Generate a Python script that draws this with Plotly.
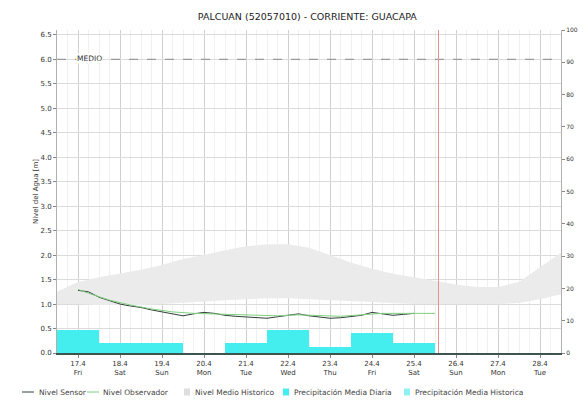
import plotly.graph_objects as go

# ---------------- data ----------------
title_text = "PALCUAN (52057010) - CORRIENTE: GUACAPA"

day_labels = ["17.4<br>Fri", "18.4<br>Sat", "19.4<br>Sun", "20.4<br>Mon", "21.4<br>Tue", "22.4<br>Wed",
              "23.4<br>Thu", "24.4<br>Fri", "25.4<br>Sat", "26.4<br>Sun", "27.4<br>Mon", "28.4<br>Tue"]
day_noons = ["2020-04-17 12:00", "2020-04-18 12:00", "2020-04-19 12:00", "2020-04-20 12:00",
             "2020-04-21 12:00", "2020-04-22 12:00", "2020-04-23 12:00", "2020-04-24 12:00",
             "2020-04-25 12:00", "2020-04-26 12:00", "2020-04-27 12:00", "2020-04-28 12:00"]

sensor_times = ["2020-04-17 12:00", "2020-04-17 18:00", "2020-04-18 00:00", "2020-04-18 06:00",
                "2020-04-18 12:00", "2020-04-18 18:00", "2020-04-19 00:00", "2020-04-19 06:00",
                "2020-04-19 12:00", "2020-04-19 18:00", "2020-04-20 00:00", "2020-04-20 06:00",
                "2020-04-20 12:00", "2020-04-20 18:00", "2020-04-21 00:00", "2020-04-21 06:00",
                "2020-04-21 12:00", "2020-04-21 18:00", "2020-04-22 00:00", "2020-04-22 06:00",
                "2020-04-22 12:00", "2020-04-22 18:00", "2020-04-23 00:00", "2020-04-23 06:00",
                "2020-04-23 12:00", "2020-04-23 18:00", "2020-04-24 00:00", "2020-04-24 06:00",
                "2020-04-24 12:00", "2020-04-24 18:00", "2020-04-25 00:00", "2020-04-25 06:00",
                "2020-04-25 12:00"]
sensor_level = [1.28, 1.25, 1.14, 1.07, 1.00, 0.96, 0.93, 0.88, 0.84, 0.80, 0.76, 0.80,
                0.83, 0.81, 0.77, 0.75, 0.74, 0.73, 0.71, 0.74, 0.77, 0.80, 0.76, 0.73,
                0.71, 0.72, 0.74, 0.77, 0.83, 0.80, 0.77, 0.79, 0.81]

obs_times = ["2020-04-17 12:00", "2020-04-17 18:00", "2020-04-18 06:00", "2020-04-18 18:00",
             "2020-04-19 06:00", "2020-04-19 18:00", "2020-04-20 06:00", "2020-04-20 18:00",
             "2020-04-21 06:00", "2020-04-21 18:00", "2020-04-22 06:00", "2020-04-22 18:00",
             "2020-04-23 06:00", "2020-04-23 18:00", "2020-04-24 06:00", "2020-04-24 18:00",
             "2020-04-25 06:00", "2020-04-25 18:00", "2020-04-26 00:00"]
obs_level = [1.30, 1.22, 1.08, 0.98, 0.90, 0.84, 0.81, 0.80, 0.78, 0.77, 0.76, 0.78,
             0.77, 0.75, 0.78, 0.81, 0.81, 0.82, 0.81]

hist_times = ["2020-04-17 00:00", "2020-04-17 12:00", "2020-04-18 00:00", "2020-04-18 12:00",
              "2020-04-19 00:00", "2020-04-19 12:00", "2020-04-20 00:00", "2020-04-20 12:00",
              "2020-04-21 00:00", "2020-04-21 12:00", "2020-04-22 00:00", "2020-04-22 12:00",
              "2020-04-23 00:00", "2020-04-23 12:00", "2020-04-24 00:00", "2020-04-24 12:00",
              "2020-04-25 00:00", "2020-04-25 12:00", "2020-04-26 00:00", "2020-04-26 12:00",
              "2020-04-27 00:00", "2020-04-27 12:00", "2020-04-28 00:00", "2020-04-28 12:00",
              "2020-04-29 00:00"]
hist_upper = [1.25, 1.45, 1.55, 1.62, 1.70, 1.80, 1.92, 2.00, 2.10, 2.18, 2.22, 2.22,
              2.15, 2.00, 1.85, 1.72, 1.62, 1.55, 1.48, 1.40, 1.35, 1.35, 1.45, 1.75, 2.05]
hist_lower = [1.00, 1.00, 0.98, 0.98, 0.98, 1.00, 1.02, 1.05, 1.08, 1.10, 1.12, 1.12,
              1.10, 1.08, 1.05, 1.03, 1.02, 1.00, 1.00, 1.00, 1.00, 1.00, 1.02, 1.10, 1.20]

precip_days = ["2020-04-17 12:00", "2020-04-18 12:00", "2020-04-19 12:00", "2020-04-20 12:00",
               "2020-04-21 12:00", "2020-04-22 12:00", "2020-04-23 12:00", "2020-04-24 12:00",
               "2020-04-25 12:00"]
precip_daily = [7.2, 3.2, 3.2, 0.0, 3.2, 7.2, 1.8, 6.2, 3.2]
precip_hist = [0, 0, 0, 0, 0, 0, 0, 0, 0]

left_ticks = [0.0, 0.5, 1.0, 1.5, 2.0, 2.5, 3.0, 3.5, 4.0, 4.5, 5.0, 5.5, 6.0, 6.5]
threshold_level = 6.0
threshold_label = "MEDIO"
now_time = "2020-04-26 02:00"

legend_names = ["Nivel Sensor", "Nivel Observador", "Nivel Medio Historico",
                "Precipitación Media Diaria", "Precipitación Media Historica"]

# ---------------- colours ----------------
C_SENSOR = "#333f3a"
C_OBS = "#7fd07f"
C_HIST = "#ebebeb"
C_PDAY = "#44eeee"
C_PHIST = "#8ff2f2"

# ---------------- figure ----------------
FONT = "DejaVu Sans"
fig = go.Figure()

fig.add_trace(go.Scatter(x=hist_times, y=hist_lower, mode="lines", line=dict(width=0, color=C_HIST),
                         showlegend=False, hoverinfo="skip"))
fig.add_trace(go.Scatter(x=hist_times, y=hist_upper, mode="lines", line=dict(width=0, color=C_HIST),
                         fill="tonexty", fillcolor=C_HIST, name=legend_names[2], showlegend=False))

fig.add_trace(go.Scatter(x=sensor_times, y=sensor_level, mode="lines", name=legend_names[0],
                         line=dict(color=C_SENSOR, width=1), showlegend=False))
fig.add_trace(go.Scatter(x=obs_times, y=obs_level, mode="lines", name=legend_names[1],
                         line=dict(color=C_OBS, width=1), showlegend=False))

fig.add_trace(go.Bar(x=precip_days, y=precip_hist, name=legend_names[4],
                     marker=dict(color=C_PHIST, line=dict(width=0)), width=86400000,
                     yaxis="y2", showlegend=False))
fig.add_trace(go.Bar(x=precip_days, y=precip_daily, name=legend_names[3],
                     marker=dict(color=C_PDAY, line=dict(width=0)), width=86400000,
                     yaxis="y2", showlegend=False))

fig.add_shape(type="line", xref="paper", x0=0, x1=1, yref="y", y0=threshold_level, y1=threshold_level,
              line=dict(color="#9a9a9a", width=1.2, dash="dash"))
fig.add_annotation(xref="x", x="2020-04-17 11:00", yref="y", y=threshold_level, text=threshold_label,
                   showarrow=False, xanchor="left", yanchor="middle", yshift=1,
                   bgcolor="white", borderpad=0,
                   font=dict(family=FONT, size=7.5, color="#333333"))
fig.add_shape(type="line", xref="x", x0=now_time, x1=now_time, yref="paper", y0=0, y1=1,
              line=dict(color="#e89090", width=1))

# ---------------- legend row (below the plot) ----------------
# screen positions of the plot area (page has an 8px body margin)
PL, PW, PB, PH = 57, 504, 353, 323
def px(xp):
    return (xp - PL) / PW
def py(yp):
    return (PB - yp) / PH

leg_y = 392
sym = [("line", C_SENSOR, 22, 34), ("line", C_OBS, 87, 99), ("box", "#dedede", 184, 190),
       ("box", C_PDAY, 283, 289), ("box", C_PHIST, 404, 410)]
text_x = [37, 101, 193, 292, 413]
for (kind, col, a, b), tx, name in zip(sym, text_x, legend_names):
    if kind == "line":
        fig.add_shape(type="line", xref="paper", yref="paper", x0=px(a), x1=px(b),
                      y0=py(leg_y), y1=py(leg_y), line=dict(color=col, width=1))
    else:
        fig.add_shape(type="rect", xref="paper", yref="paper", x0=px(a), x1=px(b),
                      y0=py(leg_y + 3.5), y1=py(leg_y - 3.5), line=dict(width=0), fillcolor=col)
    fig.add_annotation(xref="paper", yref="paper", x=px(tx), y=py(leg_y), text=name,
                       showarrow=False, xanchor="left", yanchor="middle",
                       font=dict(family=FONT, size=7.5, color="#444444"))

fig.update_layout(
    width=587, height=405,
    margin=dict(l=49, r=34, t=22, b=60, autoexpand=False),
    paper_bgcolor="white", plot_bgcolor="white",
    barmode="overlay", bargap=0, showlegend=False,
    font=dict(family=FONT, size=7, color="#333333"),
    title=dict(text=title_text, x=0.51, xanchor="center", y=0.978, yanchor="middle",
               font=dict(family=FONT, size=9.5, color="#222222")),
    xaxis=dict(type="date", range=["2020-04-17 00:00", "2020-04-29 00:00"], automargin=False,
               tickmode="array", tickvals=day_noons, ticktext=day_labels,
               showgrid=True, gridcolor="#d0d0d0", gridwidth=1,
               minor=dict(dtick=6 * 3600000, tick0="2020-04-17 00:00", showgrid=True, gridcolor="#f0f0f0"),
               showline=True, linecolor="#3d5550", linewidth=1.5, mirror=False,
               ticks="outside", ticklen=3, tickcolor="#888888",
               tickfont=dict(family=FONT, size=7, color="#333333"), zeroline=False),
    yaxis=dict(range=[0, 6.6], tickmode="array", tickvals=left_ticks, automargin=False,
               ticktext=[f"{v:.1f}" for v in left_ticks],
               showgrid=True, gridcolor="#dcdcdc", zeroline=False,
               showline=True, linecolor="#b0b0b0", linewidth=1, mirror=True,
               ticks="outside", ticklen=3, tickcolor="#888888",
               tickfont=dict(family=FONT, size=7, color="#333333"),
               title=dict(text="Nivel del Agua [m]", standoff=1,
                          font=dict(family=FONT, size=7, color="#333333"))),
    yaxis2=dict(range=[0, 100], dtick=10, overlaying="y", side="right", showgrid=False,
                zeroline=False, showline=True, linecolor="#b0b0b0", automargin=False,
                ticks="outside", ticklen=3, tickcolor="#888888",
                tickfont=dict(family=FONT, size=6, color="#333333")),
)

fig.write_html("out.html")
